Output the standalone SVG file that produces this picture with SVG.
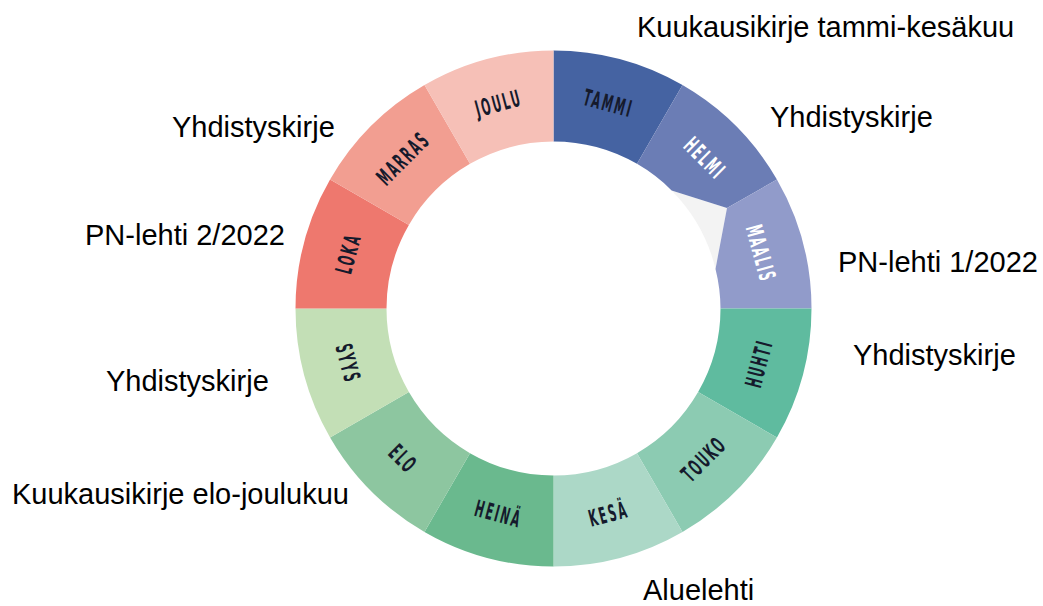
<svg xmlns="http://www.w3.org/2000/svg" width="1043" height="606" viewBox="0 0 1043 606">
<style>
.m{font-family:"DejaVu Sans Condensed","DejaVu Sans",sans-serif;font-weight:bold;font-size:23px;letter-spacing:4px;fill:#151a2c;text-anchor:middle;dominant-baseline:central}
.w{fill:#ffffff}
.lbl{font-family:"Liberation Sans",Arial,sans-serif;font-size:29px;fill:#000000}
</style>
<rect width="1043" height="606" fill="#ffffff"/>
<g id="ring">
<path id="gap" d="M671.6 190.4 L727 208 L715.5 268.9 A167 167 0 0 0 671.6 190.4 Z" fill="#f3f3f3"/>
<g id="tammi"><path d="M553.5 50.5 A258 258 0 0 1 682.5 85.07 L637 163.87 A167 167 0 0 0 553.5 141.5 Z" fill="#4563a2"/><text class="m" transform="translate(608.5 103.2) rotate(15) scale(0.52 1)">TAMMI</text></g>
<g id="helmi"><path d="M682.5 85.07 A258 258 0 0 1 776.93 179.5 L727 208 L671.6 190.4 A167 167 0 0 0 637 163.87 Z" fill="#6b7db5"/><text class="m w" transform="translate(705 158.2) rotate(45) scale(0.52 1)">HELMI</text></g>
<g id="maalis"><path d="M776.93 179.5 A258 258 0 0 1 811.5 308.5 L720.5 308.5 A167 167 0 0 0 715.5 268.9 L727 208 Z" fill="#919bca"/><text class="m w" transform="translate(761 253.5) rotate(75) scale(0.52 1)">MAALIS</text></g>
<g id="huhti"><path d="M811.5 308.5 A258 258 0 0 1 776.93 437.5 L698.12 392 A167 167 0 0 0 720.5 308.5 Z" fill="#5fbb9f"/><text class="m" transform="translate(758.8 363.5) rotate(-75) scale(0.52 1)">HUHTI</text></g>
<g id="touko"><path d="M776.93 437.5 A258 258 0 0 1 682.5 531.93 L637 453.13 A167 167 0 0 0 698.12 392 Z" fill="#8ccbb2"/><text class="m" transform="translate(703.8 458.8) rotate(-45) scale(0.52 1)">TOUKO</text></g>
<g id="kesa"><path d="M682.5 531.93 A258 258 0 0 1 553.5 566.5 L553.5 475.5 A167 167 0 0 0 637 453.13 Z" fill="#acd8c7"/><text class="m" transform="translate(608.5 513.8) rotate(-15) scale(0.52 1)">KESÄ</text></g>
<g id="heina"><path d="M553.5 566.5 A258 258 0 0 1 424.5 531.93 L470 453.13 A167 167 0 0 0 553.5 475.5 Z" fill="#6ab98e"/><text class="m" transform="translate(498.5 513.8) rotate(15) scale(0.52 1)">HEINÄ</text></g>
<g id="elo"><path d="M424.5 531.93 A258 258 0 0 1 330.07 437.5 L408.88 392 A167 167 0 0 0 470 453.13 Z" fill="#8dc6a0"/><text class="m" transform="translate(403.2 458.8) rotate(45) scale(0.52 1)">ELO</text></g>
<g id="syys"><path d="M330.07 437.5 A258 258 0 0 1 295.5 308.5 L386.5 308.5 A167 167 0 0 0 408.88 392 Z" fill="#c3dfb6"/><text class="m" transform="translate(348.2 363.5) rotate(75) scale(0.52 1)">SYYS</text></g>
<g id="loka"><path d="M295.5 308.5 A258 258 0 0 1 330.07 179.5 L408.88 225 A167 167 0 0 0 386.5 308.5 Z" fill="#ee786e"/><text class="m" transform="translate(348.2 253.5) rotate(-75) scale(0.52 1)">LOKA</text></g>
<g id="marras"><path d="M330.07 179.5 A258 258 0 0 1 424.5 85.07 L470 163.87 A167 167 0 0 0 408.88 225 Z" fill="#f29e91"/><text class="m" transform="translate(403.2 158.2) rotate(-45) scale(0.52 1)">MARRAS</text></g>
<g id="joulu"><path d="M424.5 85.07 A258 258 0 0 1 553.5 50.5 L553.5 141.5 A167 167 0 0 0 470 163.87 Z" fill="#f6c0b7"/><text class="m" transform="translate(498.5 103.2) rotate(-15) scale(0.52 1)">JOULU</text></g>
</g>
<g id="labels">
<g id="l-kk1"><text class="lbl" x="637" y="37">Kuukausikirje tammi-kesäkuu</text></g>
<g id="l-yk1"><text class="lbl" x="770" y="127">Yhdistyskirje</text></g>
<g id="l-pn1"><text class="lbl" x="838" y="272">PN-lehti 1/2022</text></g>
<g id="l-yk2"><text class="lbl" x="853" y="365">Yhdistyskirje</text></g>
<g id="l-alue"><text class="lbl" x="643" y="600">Aluelehti</text></g>
<g id="l-kk2"><text class="lbl" x="12" y="504">Kuukausikirje elo-joulukuu</text></g>
<g id="l-yk3"><text class="lbl" x="106" y="391">Yhdistyskirje</text></g>
<g id="l-pn2"><text class="lbl" x="85" y="245">PN-lehti 2/2022</text></g>
<g id="l-yk4"><text class="lbl" x="172" y="137">Yhdistyskirje</text></g>
</g>
</svg>
